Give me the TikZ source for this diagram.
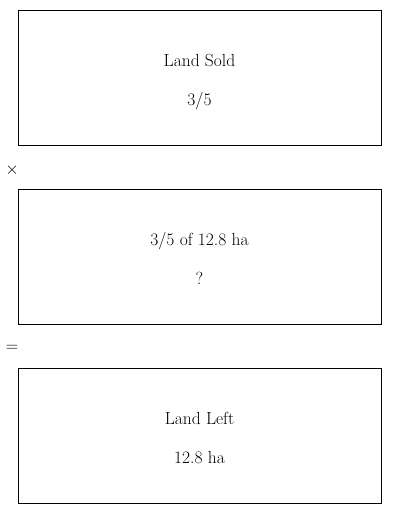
\documentclass[tikz,border=0pt]{standalone}
\usepackage{tikz}
\usetikzlibrary{positioning}

\tikzset{panel/.style={draw, rectangle, line width=0.8pt, minimum width=363pt, minimum height=135pt},
caption/.style={anchor=base, inner sep=0pt, font=\fontsize{17.5}{21}\selectfont},
sign/.style={inner sep=0pt, font=\fontsize{17}{20}\selectfont}}

\begin{document}
\begin{tikzpicture}[x=1pt,y=-1pt]
\useasboundingbox (0,0) rectangle (400,514);

\node[panel] (sold) at (199.5,77.5) {};
\node[panel] (part) at (199.5,256.5) {};
\node[panel] (left) at (199.5,435.5) {};

\node[caption] (soldname) at (199.5,66) {Land Sold};
\node[caption] (soldvalue) at (199.5,105) {3/5};

\node[caption] (partname) at (199.5,245) {3/5 of 12.8 ha};
\node[caption] (partvalue) at (199.5,284) {?};

\node[caption] (leftname) at (199.5,424) {Land Left};
\node[caption] (leftvalue) at (199.5,463) {12.8 ha};

\node[sign] (times) at (12,170) {$\times$};
\node[sign] (equals) at (12,348) {$=$};
\end{tikzpicture}
\end{document}
